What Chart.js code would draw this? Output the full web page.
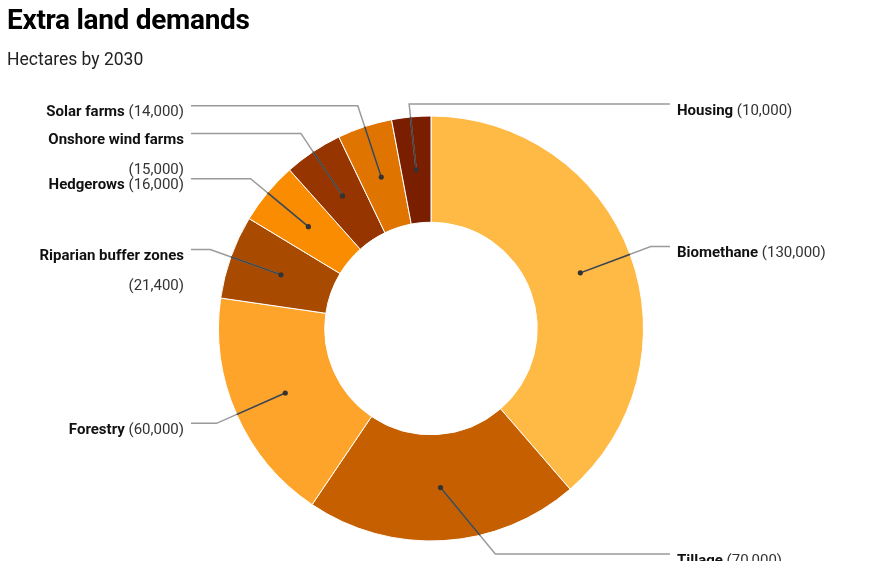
<!DOCTYPE html>
<html>
<head>
<meta charset="utf-8">
<script src="https://cdn.jsdelivr.net/npm/chart.js@4"></script>
<style>
  html, body { margin: 0; padding: 0; background: #fff; }
  #wrap { position: relative; width: 871px; height: 561px; overflow: hidden; font-family: Roboto, sans-serif; }
  #title { position: absolute; left: 7px; top: 3px; font-size: 28px; font-weight: 700; color: #000; letter-spacing: -0.3px; }
  #subtitle { position: absolute; left: 7px; top: 49px; font-size: 17.5px; color: #222; }
  #chart { position: absolute; left: 0; top: 0; }
</style>
</head>
<body>
<div id="wrap">
  <canvas id="chart" width="871" height="561"></canvas>
  <div id="title">Extra land demands</div>
  <div id="subtitle">Hectares by 2030</div>
</div>
<script>
// Data
const categories = ['Biomethane', 'Tillage', 'Forestry', 'Riparian buffer zones', 'Hedgerows', 'Onshore wind farms', 'Solar farms', 'Housing'];
const hectares = [130000, 70000, 60000, 21400, 16000, 15000, 14000, 10000];
const sliceColors = ['#FFBA45', '#C55F00', '#FFA42A', '#A84B00', '#F98C00', '#963500', '#E07400', '#7A1E00'];

// Leader-line labels
const leaderLabels = {
    id: 'leaderLabels',
    afterDraw(chart) {
        const ctx = chart.ctx;
        const arcs = chart.getDatasetMeta(0).data;
        const minY = 104, maxY = 554;
        ctx.save();
        arcs.forEach(function(arc, i) {
            const p = arc.getProps(['x', 'y', 'startAngle', 'endAngle', 'innerRadius', 'outerRadius'], true);
            const mid = (p.startAngle + p.endAngle) / 2;
            const rDot = (p.innerRadius + p.outerRadius) / 2;
            const rElbow = p.outerRadius + 22;
            const dot = { x: p.x + Math.cos(mid) * rDot, y: p.y + Math.sin(mid) * rDot };
            let ex = p.x + Math.cos(mid) * rElbow;
            let ey = p.y + Math.sin(mid) * rElbow;
            const right = Math.cos(mid) > -0.15;
            if (ey < minY) {
                ey = minY;
            } else if (ey > maxY) {
                ey = maxY;
                const dy = ey - p.y;
                ex = p.x + (right ? 1 : -1) * Math.sqrt(Math.max(rElbow * rElbow - dy * dy, 0));
            }
            const endX = right ? 670 : 191;

            // gray line, then darker over the ring
            ctx.lineWidth = 1.5;
            ctx.strokeStyle = '#9a9a9a';
            ctx.beginPath();
            ctx.moveTo(dot.x, dot.y);
            ctx.lineTo(ex, ey);
            ctx.lineTo(endX, ey);
            ctx.stroke();

            ctx.save();
            ctx.beginPath();
            ctx.arc(p.x, p.y, p.outerRadius, 0, Math.PI * 2);
            ctx.clip();
            ctx.strokeStyle = '#444';
            ctx.beginPath();
            ctx.moveTo(dot.x, dot.y);
            ctx.lineTo(ex, ey);
            ctx.stroke();
            ctx.restore();

            ctx.fillStyle = '#333';
            ctx.beginPath();
            ctx.arc(dot.x, dot.y, 2.6, 0, Math.PI * 2);
            ctx.fill();

            // text
            const name = categories[i];
            const val = '(' + hectares[i].toLocaleString('en-US') + ')';
            const boldFont = 'bold 15px Roboto';
            const normFont = '15px Roboto';
            ctx.font = boldFont;
            const wName = ctx.measureText(name).width;
            ctx.font = normFont;
            const wSpace = ctx.measureText(' ').width;
            const wVal = ctx.measureText(val).width;
            const ty = ey + 7;
            ctx.textBaseline = 'middle';
            ctx.textAlign = 'left';
            const wrap = wName + wSpace + wVal > 175;
            const tx = right ? 677 : 184;
            if (!wrap) {
                const x0 = right ? tx : tx - (wName + wSpace + wVal);
                ctx.font = boldFont;
                ctx.fillStyle = '#111';
                ctx.fillText(name, x0, ty);
                ctx.font = normFont;
                ctx.fillStyle = '#333';
                ctx.fillText(val, x0 + wName + wSpace, ty);
            } else {
                ctx.font = boldFont;
                ctx.fillStyle = '#111';
                ctx.fillText(name, right ? tx : tx - wName, ty);
                ctx.font = normFont;
                ctx.fillStyle = '#333';
                ctx.fillText(val, right ? tx : tx - wVal, ty + 30);
            }
        });
        ctx.restore();
    }
};

const ctx = document.getElementById('chart').getContext('2d');
new Chart(ctx, {
    type: 'doughnut',
    data: {
        labels: categories,
        datasets: [{
            data: hectares,
            backgroundColor: sliceColors,
            borderColor: '#fff',
            borderWidth: 1
        }]
    },
    options: {
        responsive: false,
        animation: false,
        cutout: '50%',
        layout: { padding: { left: 218, right: 227, top: 115, bottom: 19 } },
        plugins: { legend: { display: false }, tooltip: { enabled: false } }
    },
    plugins: [leaderLabels]
});
</script>
</body>
</html>
